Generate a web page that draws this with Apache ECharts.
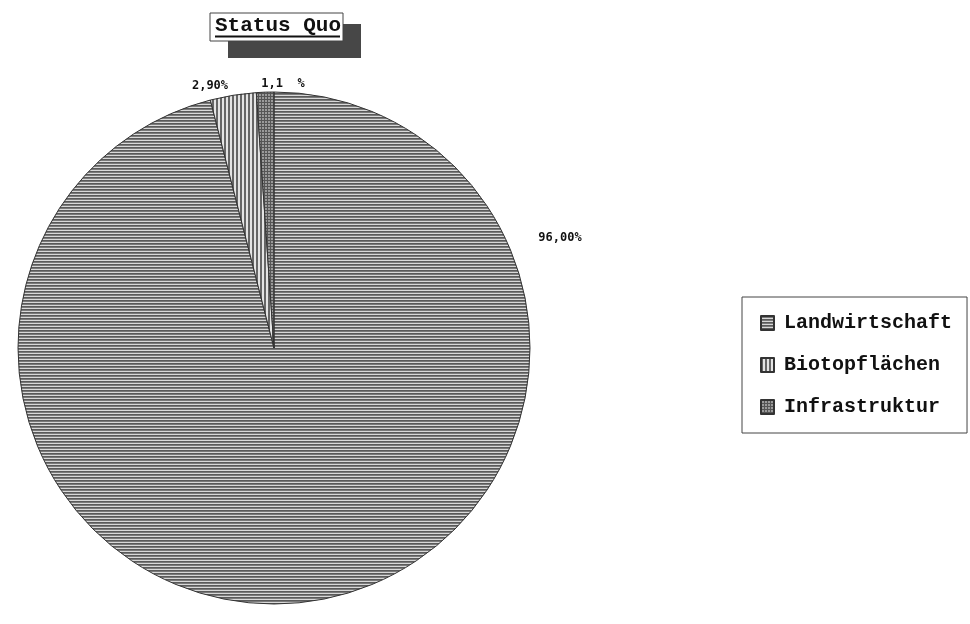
<!DOCTYPE html>
<html>
<head>
<meta charset="utf-8">
<script src="https://cdn.jsdelivr.net/npm/echarts@6/dist/echarts.min.js"></script>
<style>
  html, body { margin: 0; padding: 0; background: #fff; }
  #chart { width: 970px; height: 624px; }
</style>
</head>
<body>
<div id="chart"></div>
<script>
// Daten
const categories = ['Landwirtschaft', 'Biotopflächen', 'Infrastruktur'];
const shares = [96.0, 2.9, 1.1];
const sliceLabels = ['96,00%', '2,90%', '1,1  %'];
const titleText = 'Status Quo';

// label placement (picture coords), same order as categories
const labelPos = [[560, 238], [210, 86], [283, 84]];

// hatch patterns like the old printout
function makePattern(kind) {
  const c = document.createElement('canvas');
  const ctx = c.getContext('2d');
  if (kind === 'h') {
    c.width = 6; c.height = 3;
    ctx.fillStyle = '#7a7a7a'; ctx.fillRect(0, 0, 6, 3);
    ctx.fillStyle = '#5a5a5a'; ctx.fillRect(0, 0, 6, 1);
    ctx.fillStyle = '#d8d8d8'; ctx.fillRect(0, 2, 6, 1);
  } else if (kind === 'v') {
    c.width = 4; c.height = 4;
    ctx.fillStyle = '#e4e4e4'; ctx.fillRect(0, 0, 4, 4);
    ctx.fillStyle = '#666'; ctx.fillRect(0, 0, 2, 4);
  } else {
    c.width = 3; c.height = 3;
    ctx.fillStyle = '#9a9a9a'; ctx.fillRect(0, 0, 3, 3);
    ctx.fillStyle = '#555'; ctx.fillRect(0, 0, 3, 1);
    ctx.fillRect(0, 0, 1, 3);
  }
  return { image: c, repeat: 'repeat' };
}
const patterns = [makePattern('h'), makePattern('v'), makePattern('g')];

const chart = echarts.init(document.getElementById('chart'));

const option = {
  animation: false,
  backgroundColor: '#fff',
  graphic: [
    // title box with its dark drop shadow
    { type: 'rect', shape: { x: 228, y: 24, width: 133, height: 34 }, style: { fill: '#474747' } },
    { type: 'rect', shape: { x: 210, y: 13, width: 133, height: 28 }, style: { fill: '#fff', stroke: '#444', lineWidth: 1 } },
    { type: 'text', left: 215, top: 15, style: { text: titleText, font: 'bold 21px "Liberation Mono"', fill: '#111' } },
    { type: 'line', shape: { x1: 215, y1: 36.5, x2: 340, y2: 36.5 }, style: { stroke: '#111', lineWidth: 2 } }
  ],
  legend: {
    orient: 'vertical',
    left: 742,
    top: 297,
    padding: [16, 15, 16, 18],
    itemGap: 22,
    itemWidth: 13,
    itemHeight: 14,
    icon: 'rect',
    borderColor: '#444',
    borderWidth: 1,
    data: categories,
    textStyle: {
      fontFamily: 'Liberation Mono', fontWeight: 'bold', fontSize: 20, color: '#111',
      padding: [0, 0, 0, 5]
    }
  },
  series: [{
    type: 'pie',
    center: [274, 348],
    radius: 256,
    startAngle: 90,
    clockwise: true,
    silent: true,
    itemStyle: { borderColor: '#333', borderWidth: 1 },
    label: {
      show: true,
      position: 'outside',
      formatter: p => sliceLabels[p.dataIndex],
      fontFamily: 'DejaVu Sans Mono',
      fontWeight: 'bold',
      fontSize: 12,
      color: '#111'
    },
    labelLine: { show: false },
    labelLayout: p => ({
      x: labelPos[p.dataIndex][0],
      y: labelPos[p.dataIndex][1],
      align: 'center',
      verticalAlign: 'middle'
    }),
    data: categories.map((name, i) => ({
      name: name,
      value: shares[i],
      itemStyle: { color: patterns[i] }
    }))
  }]
};

chart.setOption(option);
</script>
</body>
</html>
